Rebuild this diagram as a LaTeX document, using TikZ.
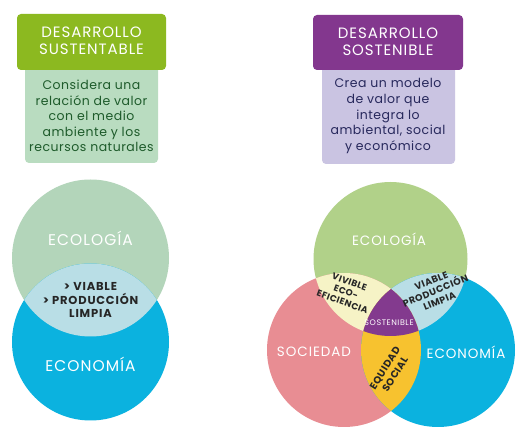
\documentclass[tikz,border=0pt]{standalone}
\usepackage{fontspec}
\setmainfont{Poppins}
\definecolor{headgreen}{HTML}{8CB920}
\definecolor{notegreen}{HTML}{B9DCC0}
\definecolor{inkgreen}{HTML}{1E5B2B}
\definecolor{headpurple}{HTML}{83378E}
\definecolor{notelilac}{HTML}{CAC4E2}
\definecolor{inknavy}{HTML}{27285C}
\definecolor{ecosage}{HTML}{B3D5BA}
\definecolor{ecolime}{HTML}{B1D189}
\definecolor{econblue}{HTML}{0BB2DF}
\definecolor{lensblue}{HTML}{B9DEE6}
\definecolor{socpink}{HTML}{E88D93}
\definecolor{lenscream}{HTML}{F6F3C6}
\definecolor{lensamber}{HTML}{F7C22F}
\definecolor{corepurple}{HTML}{833A8E}
\begin{document}
\begin{tikzpicture}[x=1pt,y=-1pt,
  title/.style={text=white,align=center,inner sep=0pt,font=\fontsize{15}{16.5}\selectfont\addfontfeatures{LetterSpace=6}},
  note/.style={align=center,inner sep=0pt,font=\fontsize{12.5}{15.6}\selectfont\addfontfeatures{LetterSpace=4}},
  big/.style={text=white,inner sep=0pt,font=\fontsize{15.5}{17}\selectfont\addfontfeatures{LetterSpace=7}},
  bigsmall/.style={text=white,inner sep=0pt,font=\fontsize{13.5}{15}\selectfont\addfontfeatures{LetterSpace=7}},
  small/.style={text=black!85,align=center,inner sep=0pt,font=\bfseries\fontsize{9.5}{11}\selectfont\addfontfeatures{LetterSpace=5}}]
\useasboundingbox[fill=white] (0,0) rectangle (525,435);
\path[fill=notegreen,draw=none,rounded corners=4pt] (25,60) rectangle (158,163);
\path[fill=headgreen,draw=none,rounded corners=4pt] (17,14) rectangle (166,70);
\node[title] (title-0) at (91.5,41) {DESARROLLO\\SUSTENTABLE};
\node[note,text=inkgreen] (note-0) at (91.5,116) {Considera una\\relación de valor\\con el medio\\ambiente y los\\recursos naturales};
\path[fill=notelilac,draw=none,rounded corners=4pt] (322,60) rectangle (455,164);
\path[fill=headpurple,draw=none,rounded corners=4pt] (313,15) rectangle (463,70);
\node[title] (title-1) at (388,42) {DESARROLLO\\SOSTENIBLE};
\node[note,text=inknavy] (note-1) at (388,116) {Crea un modelo\\de valor que\\integra lo\\ambiental, social\\y económico};
\coordinate (circle-0-0) at (90.5,258);
\coordinate (circle-0-1) at (90.5,342);
\path[fill=ecosage,draw=none] (circle-0-0) circle (78.5);
\path[fill=econblue,draw=none] (circle-0-1) circle (78.5);
\begin{scope}
\clip (circle-0-0) circle (78.5);
\path[fill=lensblue,draw=none] (circle-0-1) circle (78.5);
\end{scope}
\node[big] (label-0-0) at (90.5,238) {ECOLOGÍA};
\node[big] (label-0-1) at (90.5,364) {ECONOMÍA};
\node[small,font=\bfseries\fontsize{11.5}{13.2}\selectfont\addfontfeatures{LetterSpace=7}] (lens-0) at (90.5,300) {> VIABLE\\> PRODUCCIÓN\\LIMPIA};
\coordinate (circle-1-0) at (390.5,259);
\coordinate (circle-1-1) at (344,350);
\coordinate (circle-1-2) at (438,350);
\path[fill=ecolime,draw=none] (circle-1-0) circle (77);
\path[fill=socpink,draw=none] (circle-1-1) circle (77);
\path[fill=econblue,draw=none] (circle-1-2) circle (77);
\begin{scope}
\clip (circle-1-0) circle (77);
\path[fill=lenscream,draw=none] (circle-1-1) circle (77);
\path[fill=lensblue,draw=none] (circle-1-2) circle (77);
\end{scope}
\begin{scope}
\clip (circle-1-1) circle (77);
\path[fill=lensamber,draw=none] (circle-1-2) circle (77);
\clip (circle-1-0) circle (77);
\path[fill=corepurple,draw=none] (circle-1-2) circle (77);
\end{scope}
\node[bigsmall] (label-1-0) at (389,239) {ECOLOGÍA};
\node[bigsmall] (label-1-1) at (314,352) {SOCIEDAD};
\node[bigsmall] (label-1-2) at (466,352) {ECONOMÍA};
\node[small,font=\bfseries\fontsize{9}{10.5}\selectfont\addfontfeatures{LetterSpace=5},rotate=-20] (lens-1-0) at (346,292) {VIVIBLE\\ECO-\\EFICIENCIA};
\node[small,rotate=22] (lens-1-1) at (435.5,291) {VIABLE\\PRODUCCIÓN\\LIMPIA};
\node[small,font=\bfseries\fontsize{10}{12}\selectfont\addfontfeatures{LetterSpace=5},rotate=58] (lens-1-2) at (390,371) {EQUIDAD\\SOCIAL};
\node[small,text=white,font=\fontsize{8}{9}\selectfont\addfontfeatures{LetterSpace=7}] (core-1) at (389,323) {SOSTENIBLE};
\end{tikzpicture}
\end{document}
